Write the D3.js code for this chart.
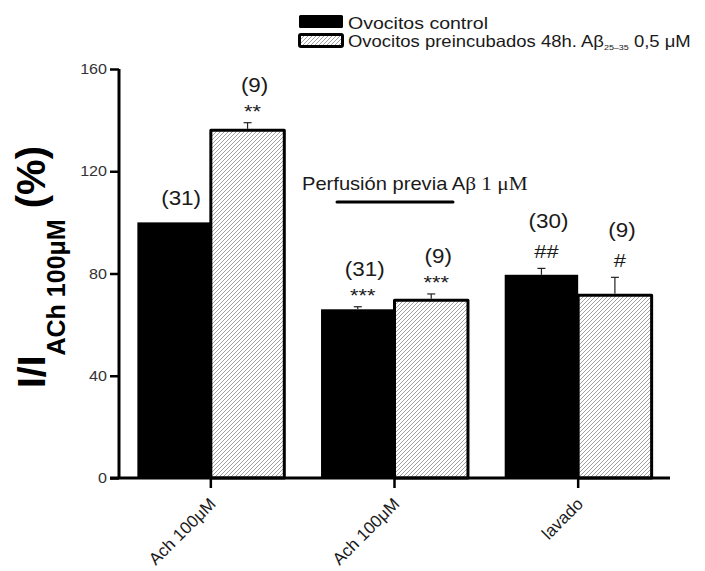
<!DOCTYPE html>
<html>
<head>
<meta charset="utf-8">
<script src="https://cdn.jsdelivr.net/npm/d3@7/dist/d3.min.js"></script>
<style>
  body { margin: 0; background: #fff; }
  svg { display: block; }
</style>
</head>
<body>
<svg id="chart" width="705" height="571"></svg>
<script>
// ---- data ----
const groupLabels = ["Ach 100μM", "Ach 100μM", "lavado"];
const seriesNames = ["Ovocitos control", "Ovocitos preincubados 48h. Aβ"];
const controlMean = [100, 66, 79.5];
const controlSem = [0, 1, 2.5];
const preincMean = [136, 69.5, 71.5];
const preincSem = [3, 2.5, 7];
const controlN = ["(31)", "(31)", "(30)"];
const preincN = ["(9)", "(9)", "(9)"];
const controlSig = ["", "***", "##"];
const preincSig = ["**", "***", "#"];
const yTicks = [0, 40, 80, 120, 160];

// ---- layout ----
const svg = d3.select("#chart");
const SX = 1.15;              // horizontal stretch of the text glyphs
const sans = "'Liberation Sans', Arial, sans-serif";
const serif = "'Liberation Serif', 'Times New Roman', serif";

const y = d3.scaleLinear().domain([0, 160]).range([478, 69]);
const idx = groupLabels.map((d, i) => i);
const x0 = d3.scaleBand().domain(idx).range([119, 670]).paddingInner(0.2).paddingOuter(0.1);
const x1 = d3.scaleBand().domain([0, 1]).range([0, x0.bandwidth()]);

// diagonal hatch pattern
const defs = svg.append("defs");
const pat = defs.append("pattern")
  .attr("id", "hatch").attr("patternUnits", "userSpaceOnUse")
  .attr("width", 4).attr("height", 4);
pat.append("rect").attr("width", 4).attr("height", 4).attr("fill", "#fff");
pat.append("path").attr("d", "M-1,1 l2,-2 M0,4 l4,-4 M3,5 l2,-2")
  .attr("stroke", "#909090").attr("stroke-width", 0.85);

// helper: horizontally stretched text
function stext(parent, xPos, yPos, txt, size, anchor, sx) {
  const g = parent.append("g").attr("transform", `translate(${xPos},${yPos}) scale(${sx || SX},1)`);
  return g.append("text").attr("x", 0).attr("y", 0)
    .attr("font-family", sans).attr("font-size", size)
    .attr("text-anchor", anchor || "start").attr("fill", "#1a1a1a").text(txt);
}

// ---- bars ----
const rows = idx.map(i => ([
  { g: i, s: 0, v: controlMean[i], e: controlSem[i], n: controlN[i], sig: controlSig[i] },
  { g: i, s: 1, v: preincMean[i], e: preincSem[i], n: preincN[i], sig: preincSig[i] }
])).flat();

const bars = svg.append("g");
bars.selectAll("rect").data(rows).join("rect")
  .attr("x", d => x0(d.g) + x1(d.s))
  .attr("width", x1.bandwidth())
  .attr("y", d => y(d.v))
  .attr("height", d => y(0) - y(d.v))
  .attr("fill", d => d.s === 0 ? "#000" : "url(#hatch)")
  .attr("stroke", "#000")
  .attr("stroke-width", d => d.s === 0 ? 0 : 3)
  .attr("stroke-linejoin", "round");

// error bars (upper half only)
const eb = svg.append("g").attr("stroke", "#222").attr("stroke-width", 1.2).attr("fill", "none");
rows.filter(d => d.e > 0).forEach(d => {
  const cx = x0(d.g) + x1(d.s) + x1.bandwidth() / 2;
  eb.append("line").attr("x1", cx).attr("x2", cx).attr("y1", y(d.v) - (d.s ? 1.5 : 0)).attr("y2", y(d.v + d.e));
  eb.append("line").attr("x1", cx - 4).attr("x2", cx + 4).attr("y1", y(d.v + d.e)).attr("y2", y(d.v + d.e));
});

// n values and significance marks
const ann = svg.append("g");
rows.forEach(d => {
  const cx = x0(d.g) + x1(d.s) + x1.bandwidth() / 2 + 7;
  const top = y(d.v + d.e);
  let nBase;
  if (d.sig) {
    const star = d.sig.startsWith("*");
    const sigBase = star ? top - 5 : top - 10;
    stext(ann, cx - 2, sigBase, d.sig, 19, "middle");
    nBase = sigBase - (star ? 26 : 30);
  } else {
    nBase = top - 17;
  }
  stext(ann, cx, nBase, d.n, 19.5, "middle");
});

// ---- axes ----
const yAxis = svg.append("g").attr("transform", "translate(119,0)")
  .call(d3.axisLeft(y).tickValues(yTicks).tickSize(9).tickPadding(4));
yAxis.select(".domain").attr("d", `M0,${y(160)}V${y(0)}`).attr("stroke", "#000").attr("stroke-width", 3);
yAxis.selectAll(".tick line").attr("stroke", "#000").attr("stroke-width", 2.5);
yAxis.selectAll(".tick text").remove();
yTicks.forEach(t => stext(svg, 107, y(t) + 5, String(t), 14, "end").attr("fill", "#333"));

const xAxis = svg.append("g").attr("transform", `translate(0,${y(0)})`)
  .call(d3.axisBottom(x0).tickSize(10).tickFormat(""));
xAxis.select(".domain").attr("d", "M110,0H670").attr("stroke", "#000").attr("stroke-width", 3);
xAxis.selectAll(".tick line").attr("stroke", "#000").attr("stroke-width", 2.5);
xAxis.selectAll(".tick").each(function(d) {
  d3.select(this).append("text")
    .attr("transform", "translate(6,27) rotate(-45)")
    .attr("text-anchor", "end")
    .attr("font-family", sans).attr("font-size", 17).attr("fill", "#1a1a1a")
    .text(groupLabels[d]);
});

// y axis title
const yt = svg.append("text")
  .attr("transform", "translate(45,388) rotate(-90)")
  .attr("font-family", sans).attr("font-weight", "bold").attr("fill", "#000");
yt.append("tspan").attr("font-size", 39).text("I/I");
yt.append("tspan").attr("font-size", 25).attr("dy", 20).text("ACh 100μM");
yt.append("tspan").attr("font-size", 40).attr("dy", -20).text(" (%)");

// pre-perfusion annotation
const perf = stext(svg, 302, 190, "", 17.5, "start");
perf.append("tspan").text("Perfusión previa A");
perf.append("tspan").attr("font-family", serif).attr("font-size", 18.5).text("β 1 μM");
svg.append("line").attr("x1", 337).attr("x2", 453).attr("y1", 202).attr("y2", 202)
  .attr("stroke", "#000").attr("stroke-width", 3).attr("stroke-linecap", "round");

// ---- legend ----
const lg = svg.append("g");
lg.append("rect").attr("x", 299).attr("y", 15).attr("width", 44).attr("height", 13)
  .attr("fill", "#000").attr("rx", 1.5);
lg.append("rect").attr("x", 299.5).attr("y", 34.5).attr("width", 43).attr("height", 12)
  .attr("fill", "url(#hatch)").attr("stroke", "#000").attr("stroke-width", 3).attr("rx", 1.5);
stext(lg, 348, 29, seriesNames[0], 17, "start");
const l2 = stext(lg, 348, 47, seriesNames[1], 16.5, "start", 1.12);
l2.append("tspan").attr("font-size", 8).attr("dy", 3).text("25–35");
l2.append("tspan").attr("dy", -3).text(" 0,5 μM");
</script>
</body>
</html>
